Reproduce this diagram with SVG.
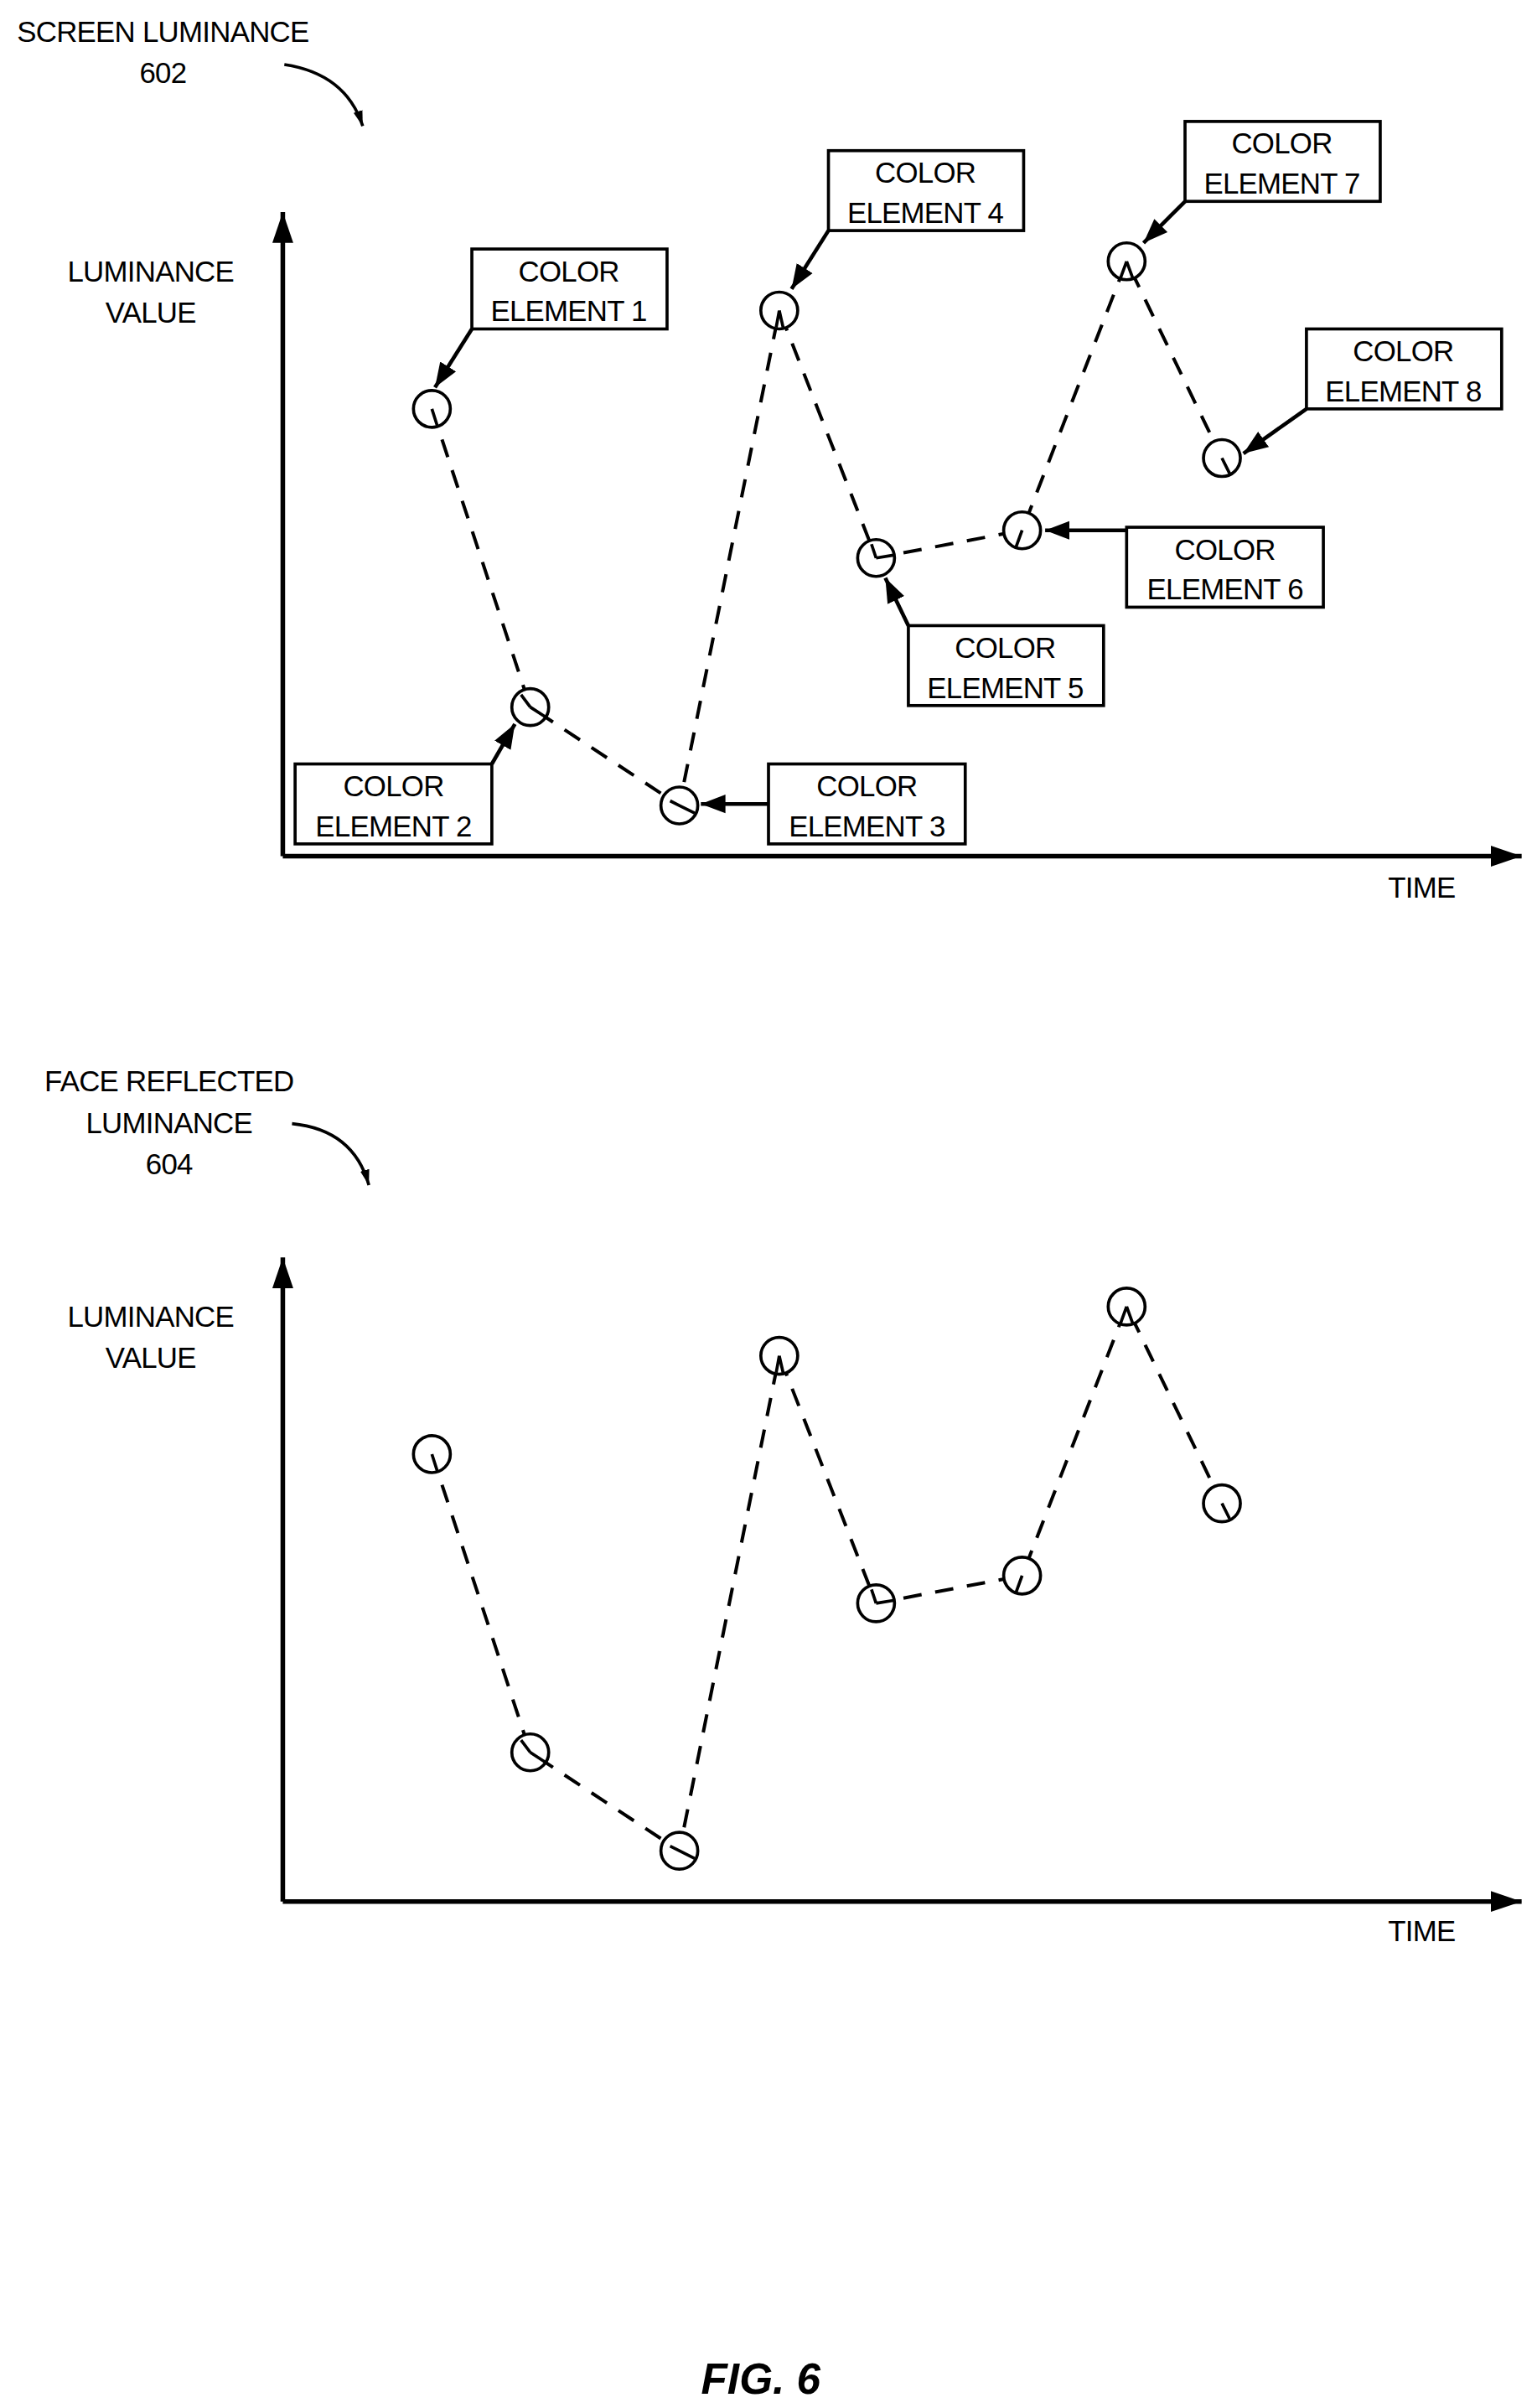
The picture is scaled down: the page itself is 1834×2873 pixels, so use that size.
<svg xmlns="http://www.w3.org/2000/svg" width="1834" height="2873" viewBox="0 0 1834 2873">
<defs>
<marker id="ah" viewBox="0 0 10 10" refX="10" refY="5" markerWidth="16" markerHeight="16" markerUnits="userSpaceOnUse" orient="auto"><path d="M0,1.2 L10,5 L0,8.8 z" fill="#000"/></marker>
<marker id="ahs" viewBox="0 0 10 10" refX="10" refY="5" markerWidth="10" markerHeight="10" markerUnits="userSpaceOnUse" orient="auto"><path d="M0,2 L10,5 L0,8 z" fill="#000"/></marker>
<marker id="ax" viewBox="0 0 10 10" refX="10" refY="5" markerWidth="20" markerHeight="20" markerUnits="userSpaceOnUse" orient="auto"><path d="M0,1.6 L10,5 L0,8.4 z" fill="#000"/></marker>
</defs>
<style>
text{font-family:"Liberation Sans",Arial,sans-serif;font-size:19px;letter-spacing:-0.4px;fill:#000;text-anchor:middle}
.b{fill:#fff;stroke:#000;stroke-width:2}
.c{fill:#fff;stroke:#000;stroke-width:2}
.d{stroke:#000;stroke-width:2.2;stroke-dasharray:12,9;fill:none}
.l{stroke:#000;stroke-width:2;fill:none}
.a{stroke:#000;stroke-width:3;fill:none}
</style>
<rect width="1834" height="2873" fill="#fff"/>
<g transform="scale(1.834)">
<g id="labels">
<text x="106" y="27">SCREEN LUMINANCE</text><text x="106" y="54">602</text>
<path class="l" d="M185,42 Q225,48 236,82" marker-end="url(#ahs)"/>
<text x="110" y="710">FACE REFLECTED</text><text x="110" y="737">LUMINANCE</text><text x="110" y="764">604</text>
<path class="l" d="M190,731 Q230,735 240,771" marker-end="url(#ahs)"/>
<text x="98" y="183">LUMINANCE</text><text x="98" y="210">VALUE</text>
<text x="925" y="584">TIME</text>
<text x="98" y="863">LUMINANCE</text><text x="98" y="890">VALUE</text>
<text x="925" y="1263">TIME</text>
<text x="495" y="1557" style="font-weight:bold;font-style:italic;font-size:28px;letter-spacing:0">FIG. 6</text>
</g>
<g id="connectors">
<path class="a" d="M184,557 V138" marker-end="url(#ax)"/>
<path class="a" d="M184,557 H990" marker-end="url(#ax)"/>
<path class="a" d="M184,1237 V818" marker-end="url(#ax)"/>
<path class="a" d="M184,1237 H990" marker-end="url(#ax)"/>
<path class="d" d="M281,266 L345,460 L442,524 L507,202 L570,363 L665,345 L733,170 L795,298"/>
<path class="d" d="M281,946 L345,1140 L442,1204 L507,882 L570,1043 L665,1025 L733,850 L795,978"/>
<g class="a" style="stroke-width:2.5">
<path d="M307,214 L283,252" marker-end="url(#ah)"/>
<path d="M320,497 L335,471" marker-end="url(#ah)"/>
<path d="M500,523 L456,523" marker-end="url(#ah)"/>
<path d="M539,150 L515,188" marker-end="url(#ah)"/>
<path d="M591,407 L576,376" marker-end="url(#ah)"/>
<path d="M733,345 L680,345" marker-end="url(#ah)"/>
<path d="M771,131 L744,158" marker-end="url(#ah)"/>
<path d="M850,266 L809,295" marker-end="url(#ah)"/>
</g>
</g>
<g id="points">
<g class="c">
<circle cx="281" cy="266" r="12"/><circle cx="345" cy="460" r="12"/><circle cx="442" cy="524" r="12"/><circle cx="507" cy="202" r="12"/><circle cx="570" cy="363" r="12"/><circle cx="665" cy="345" r="12"/><circle cx="733" cy="170" r="12"/><circle cx="795" cy="298" r="12"/>
<circle cx="281" cy="946" r="12"/><circle cx="345" cy="1140" r="12"/><circle cx="442" cy="1204" r="12"/><circle cx="507" cy="882" r="12"/><circle cx="570" cy="1043" r="12"/><circle cx="665" cy="1025" r="12"/><circle cx="733" cy="850" r="12"/><circle cx="795" cy="978" r="12"/>
</g>
<g class="l">
<path d="M281,266 l3.5,11 M345,460 l10,6.5 M345,460 l-6,-8 M442,524 l10,5 M442,524 l-6,-3 M507,202 l2.5,11 M507,202 l-2,11 M570,363 l12,-2 M570,363 l-3,-9 M665,345 l-4,11 M733,170 l4,11 M733,170 l-4,11 M795,298 l5,10"/>
<path d="M281,946 l3.5,11 M345,1140 l10,6.5 M345,1140 l-6,-8 M442,1204 l10,5 M442,1204 l-6,-3 M507,882 l2.5,11 M507,882 l-2,11 M570,1043 l12,-2 M570,1043 l-3,-9 M665,1025 l-4,11 M733,850 l4,11 M733,850 l-4,11 M795,978 l5,10"/>
</g>
</g>
<g id="ce1"><rect class="b" x="307" y="162" width="127" height="52"/><text x="370" y="183">COLOR</text><text x="370" y="209">ELEMENT 1</text></g>
<g id="ce2"><rect class="b" x="192" y="497" width="128" height="52"/><text x="256" y="518">COLOR</text><text x="256" y="544">ELEMENT 2</text></g>
<g id="ce3"><rect class="b" x="500" y="497" width="128" height="52"/><text x="564" y="518">COLOR</text><text x="564" y="544">ELEMENT 3</text></g>
<g id="ce4"><rect class="b" x="539" y="98" width="127" height="52"/><text x="602" y="119">COLOR</text><text x="602" y="145">ELEMENT 4</text></g>
<g id="ce5"><rect class="b" x="591" y="407" width="127" height="52"/><text x="654" y="428">COLOR</text><text x="654" y="454">ELEMENT 5</text></g>
<g id="ce6"><rect class="b" x="733" y="343" width="128" height="52"/><text x="797" y="364">COLOR</text><text x="797" y="390">ELEMENT 6</text></g>
<g id="ce7"><rect class="b" x="771" y="79" width="127" height="52"/><text x="834" y="100">COLOR</text><text x="834" y="126">ELEMENT 7</text></g>
<g id="ce8"><rect class="b" x="850" y="214" width="127" height="52"/><text x="913" y="235">COLOR</text><text x="913" y="261">ELEMENT 8</text></g>
</g>
</svg>
